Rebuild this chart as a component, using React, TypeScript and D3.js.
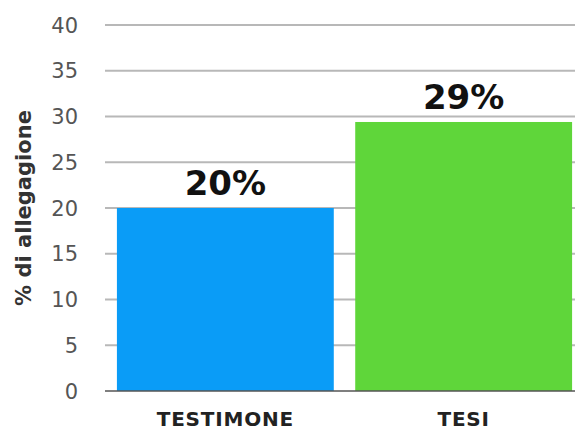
import React, { useRef, useEffect } from 'react';
import * as d3 from 'd3';

const categories = ['TESTIMONE', 'TESI'];
const values = [20, 29.4];
const valueLabels = ['20%', '29%'];
const barColors = ['#0a9cf7', '#5fd63a'];
const yTicks = [0, 5, 10, 15, 20, 25, 30, 35, 40];

function App() {
  const svgRef = useRef<SVGSVGElement>(null);

  useEffect(() => {
    const svg = d3.select(svgRef.current);
    svg.selectAll('*').remove();

    const width = 575;
    const font = '"DejaVu Sans", sans-serif';

    const y = d3.scaleLinear().domain([0, 40]).range([391, 25]);
    const x = d3.scaleBand<string>()
      .domain(categories)
      .range([105, 584])
      .paddingInner(0.09)
      .paddingOuter(0.05);

    // gridlines
    svg.append('g')
      .selectAll('line')
      .data(yTicks.filter(t => t > 0))
      .join('line')
      .attr('x1', 105)
      .attr('x2', width)
      .attr('y1', d => y(d))
      .attr('y2', d => y(d))
      .attr('stroke', '#b8b8b8')
      .attr('stroke-width', 2);

    // tick labels
    svg.append('g')
      .selectAll('text')
      .data(yTicks)
      .join('text')
      .attr('x', 78)
      .attr('y', d => y(d))
      .attr('dy', '0.36em')
      .attr('text-anchor', 'end')
      .attr('font-family', font)
      .attr('font-size', 21)
      .attr('fill', '#555')
      .text(d => d);

    // bars
    svg.append('g')
      .selectAll('rect')
      .data(categories)
      .join('rect')
      .attr('x', d => x(d)!)
      .attr('y', (d, i) => y(values[i]))
      .attr('width', x.bandwidth())
      .attr('height', (d, i) => y(0) - y(values[i]))
      .attr('fill', (d, i) => barColors[i]);

    // baseline
    svg.append('line')
      .attr('x1', 105)
      .attr('x2', width)
      .attr('y1', y(0))
      .attr('y2', y(0))
      .attr('stroke', '#555')
      .attr('stroke-width', 1.5);

    // value labels
    svg.append('g')
      .selectAll('text')
      .data(categories)
      .join('text')
      .attr('x', d => x(d)! + x.bandwidth() / 2)
      .attr('y', (d, i) => y(values[i]) - 13)
      .attr('text-anchor', 'middle')
      .attr('font-family', font)
      .attr('font-weight', 'bold')
      .attr('font-size', 34)
      .attr('fill', '#111')
      .text((d, i) => valueLabels[i]);

    // category labels
    svg.append('g')
      .selectAll('text')
      .data(categories)
      .join('text')
      .attr('x', d => x(d)! + x.bandwidth() / 2)
      .attr('y', 426)
      .attr('text-anchor', 'middle')
      .attr('font-family', font)
      .attr('font-weight', 'bold')
      .attr('font-size', 20)
      .attr('letter-spacing', 0.8)
      .attr('fill', '#222')
      .text(d => d);

    // y axis title
    svg.append('text')
      .attr('transform', `translate(31, ${y(20)}) rotate(-90)`)
      .attr('text-anchor', 'middle')
      .attr('font-family', font)
      .attr('font-weight', 'bold')
      .attr('font-size', 21)
      .attr('fill', '#333')
      .text('% di allegagione');
  }, []);

  return (
    <svg
      ref={svgRef}
      width={575}
      height={435}
      style={{ position: 'absolute', left: 0, top: 0, background: '#fff' }}
    ></svg>
  );
}

export default App;
